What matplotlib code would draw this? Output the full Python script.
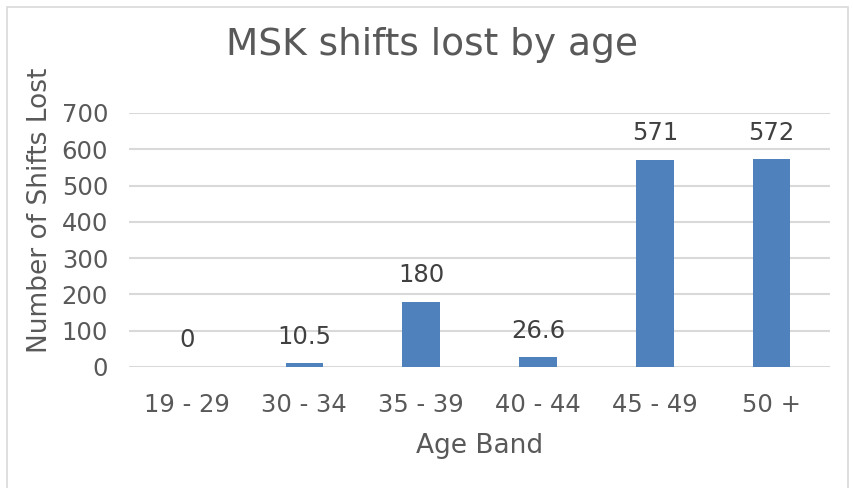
import matplotlib.pyplot as plt
from matplotlib.patches import Rectangle

# data
age_bands = ["19 - 29", "30 - 34", "35 - 39", "40 - 44", "45 - 49", "50 +"]
shifts_lost = [0, 10.5, 180, 26.6, 571, 572]
value_labels = ["0", "10.5", "180", "26.6", "571", "572"]

txt = "#595959"
bar_col = "#4f81bd"
grid_col = "#d9d9d9"

fig = plt.figure(figsize=(8.54, 4.88), dpi=100)
ax = fig.add_axes([0.151, 0.248, 0.821, 0.5205])

x = range(len(age_bands))
ax.bar(x, shifts_lost, width=0.32, color=bar_col, zorder=3)

for i, v in enumerate(shifts_lost):
    ax.annotate(value_labels[i], (i, v), xytext=(0, 10.5), textcoords="offset points",
                ha="center", va="bottom", fontsize=17.5, color="#404040")

ax.set_xlim(-0.5, len(age_bands) - 0.5)
ax.set_ylim(0, 700)
ax.set_yticks(range(0, 701, 100))
ax.set_xticks(list(x))
ax.set_xticklabels(age_bands)
ax.tick_params(axis="both", length=0, labelsize=17.5, labelcolor=txt)
ax.tick_params(axis="x", pad=19)
ax.tick_params(axis="y", pad=15)
ax.grid(axis="y", color=grid_col, linewidth=1.5, zorder=0)
for s in ax.spines.values():
    s.set_visible(False)

ax.set_xlabel("Age Band", fontsize=19, color=txt, labelpad=11)
ax.set_ylabel("Number of Shifts Lost", fontsize=19, color=txt, labelpad=6)
ax.yaxis.set_label_coords(-0.108, 0.618)
fig.text(0.506, 0.907, "MSK shifts lost by age", fontsize=27, color=txt,
         ha="center", va="center")

# outer chart border
fig.patches.append(Rectangle((7 / 854, -0.05), 841 / 854, 1 - 7 / 488 + 0.05,
                             transform=fig.transFigure, fill=False,
                             edgecolor=grid_col, linewidth=1.2))

fig.savefig("out.png", dpi=100)
